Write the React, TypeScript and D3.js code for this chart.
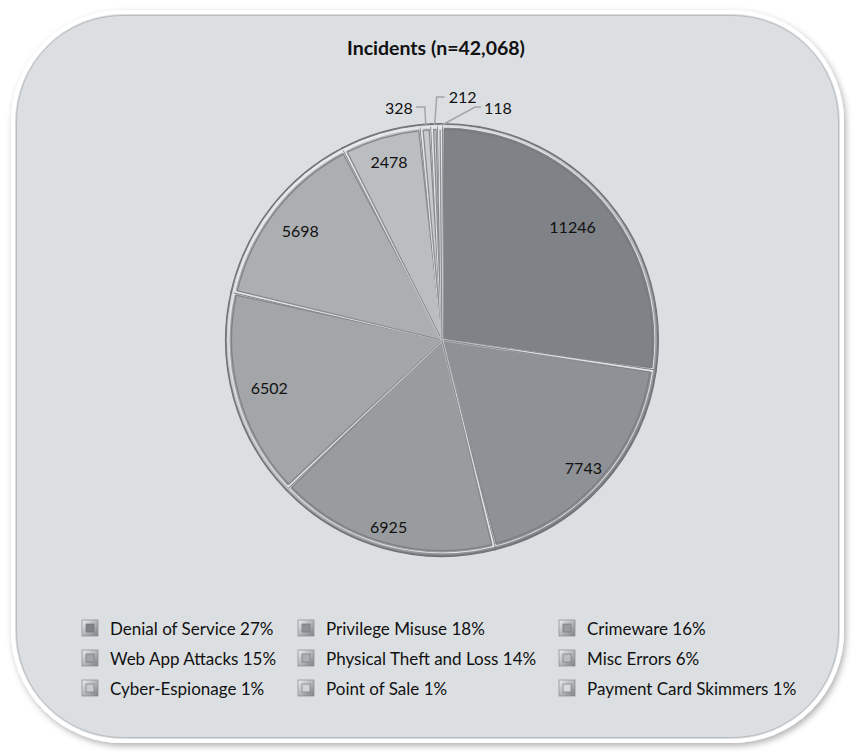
import React from "react";
import * as d3 from "d3";

const categories = [
  "Denial of Service",
  "Privilege Misuse",
  "Crimeware",
  "Web App Attacks",
  "Physical Theft and Loss",
  "Misc Errors",
  "Cyber-Espionage",
  "Point of Sale",
  "Payment Card Skimmers",
];
const values = [11246, 7743, 6925, 6502, 5698, 2478, 328, 212, 118];
const legendPercents = ["27%", "18%", "16%", "15%", "14%", "6%", "1%", "1%", "1%"];
const title = "Incidents (n=42,068)";

// styling / layout (not data)
const colors = ["#7f8286", "#8e9195", "#999c9f", "#a3a6a9", "#acafb2", "#bbbec1", "#c8cacd", "#d0d2d4", "#d7d9db"];
const labelRadiusFactor = [0.8, 0.88, 0.9, 0.83, 0.83, 0.86, 0, 0, 0];

const W = 854;
const H = 753;
const cx = 442;
const cy = 340;
const R = 216;
const FONT = "Lato, 'Open Sans', sans-serif";

export default function App() {
  const pie = d3.pie<number>().sort(null).value((d) => d)(values);
  const arcOuter = d3.arc<d3.PieArcDatum<number>>().innerRadius(0).outerRadius(R);
  const arcHi = d3.arc<d3.PieArcDatum<number>>().innerRadius(0).outerRadius(R - 2.5).padAngle(0.008).padRadius(R);
  const arcIn = d3.arc<d3.PieArcDatum<number>>().innerRadius(0).outerRadius(R - 5.5).padAngle(0.02).padRadius(R);

  const labelPos = (d: d3.PieArcDatum<number>, f: number) => {
    const a = (d.startAngle + d.endAngle) / 2;
    return [cx + Math.sin(a) * R * f, cy - Math.cos(a) * R * f];
  };

  const edge = (i: number) => {
    const d = pie[i];
    const a = (d.startAngle + d.endAngle) / 2;
    return [cx + Math.sin(a) * (R - 1), cy - Math.cos(a) * (R - 1)];
  };

  const legendCols = [90, 306, 567];
  const legendRows = [628, 658, 688];

  const [e6x, e6y] = edge(6);
  const [e7x, e7y] = edge(7);
  const [e8x, e8y] = edge(8);

  return (
    <svg width={W} height={H} style={{ display: "block", position: "absolute", left: 0, top: 0 }}>
      <defs>
        <filter id="shadow" x="-5%" y="-5%" width="110%" height="110%">
          <feDropShadow dx="2" dy="3" stdDeviation="3" floodColor="#000" floodOpacity="0.3" />
        </filter>
        <linearGradient id="legGrad" x1="0" y1="0" x2="1" y2="1">
          <stop offset="0" stopColor="#eceef0" />
          <stop offset="0.5" stopColor="#b5b8bb" />
          <stop offset="1" stopColor="#7d8084" />
        </linearGradient>
        <linearGradient id="rimGrad" x1="0.15" y1="0" x2="0.85" y2="1">
          <stop offset="0" stopColor="#f4f5f6" />
          <stop offset="0.5" stopColor="#b4b7ba" />
          <stop offset="1" stopColor="#6c6f73" />
        </linearGradient>
      </defs>
      <rect x={0} y={0} width={W} height={H} fill="#ffffff" />
      <rect
        x={13}
        y={12}
        width={829}
        height={729}
        rx={110}
        ry={110}
        fill="#dcdfe2"
        stroke="#ffffff"
        strokeWidth={4}
        filter="url(#shadow)"
      />
      <rect x={16.5} y={15.5} width={822} height={722} rx={106} ry={106} fill="none" stroke="#b9bcbf" strokeWidth={1} />

      <text x={436} y={55} textAnchor="middle" fontFamily={FONT} fontWeight="bold" fontSize={19.5} fill="#111">
        {title}
      </text>

      <g transform={`translate(${cx},${cy})`}>
        {pie.map((d, i) => (
          <g key={i}>
            <path d={arcOuter(d) || ""} fill={colors[i]} stroke="#6f7276" strokeWidth={2} />
            <path d={arcHi(d) || ""} fill="none" stroke="#f4f5f6" strokeOpacity={0.85} strokeWidth={2.2} />
            <path d={arcIn(d) || ""} fill="none" stroke="#75787c" strokeOpacity={0.8} strokeWidth={1.3} />
          </g>
        ))}
        <circle r={R - 1.5} fill="none" stroke="url(#rimGrad)" strokeWidth={2.5} strokeOpacity={0.85} />
        <circle r={R} fill="none" stroke="#73767a" strokeWidth={1} />
      </g>

      {pie.map((d, i) => {
        if (labelRadiusFactor[i] === 0) return null;
        const [x, y] = labelPos(d, labelRadiusFactor[i]);
        return (
          <text key={i} x={x} y={y} textAnchor="middle" dominantBaseline="central" fontFamily={FONT} fontSize={16} fill="#111">
            {values[i]}
          </text>
        );
      })}

      {/* outside labels for the three smallest slices */}
      <g fontFamily={FONT} fontSize={16} fill="#111">
        <path d={`M${e6x - 10},107 H${e6x - 1} L${e6x},${e6y}`} fill="none" stroke="#a3a6a9" strokeWidth={1.5} />
        <text x={e6x - 13} y={107} textAnchor="end" dominantBaseline="central">{values[6]}</text>

        <path d={`M${e7x + 10},97 H${e7x + 2} L${e7x},${e7y}`} fill="none" stroke="#a3a6a9" strokeWidth={1.5} />
        <text x={e7x + 14} y={96} textAnchor="start" dominantBaseline="central">{values[7]}</text>

        <path d={`M${e8x + 41},107 H${e8x + 35} L${e8x + 2},${e8y}`} fill="none" stroke="#a3a6a9" strokeWidth={1.5} />
        <text x={e8x + 44} y={107} textAnchor="start" dominantBaseline="central">{values[8]}</text>
      </g>

      {categories.map((c, i) => {
        const col = i % 3;
        const row = Math.floor(i / 3);
        const x = legendCols[col];
        const y = legendRows[row];
        return (
          <g key={c}>
            <rect x={x - 8} y={y - 8} width={16} height={16} fill="url(#legGrad)" stroke="#8e9195" strokeWidth={0.8} />
            <rect x={x - 4} y={y - 4} width={8} height={8} fill={colors[i]} stroke="#6f7276" strokeWidth={0.6} />
            <text x={x + 20} y={y} dominantBaseline="central" fontFamily={FONT} fontSize={17} fill="#111">
              {`${c} ${legendPercents[i]}`}
            </text>
          </g>
        );
      })}
    </svg>
  );
}
